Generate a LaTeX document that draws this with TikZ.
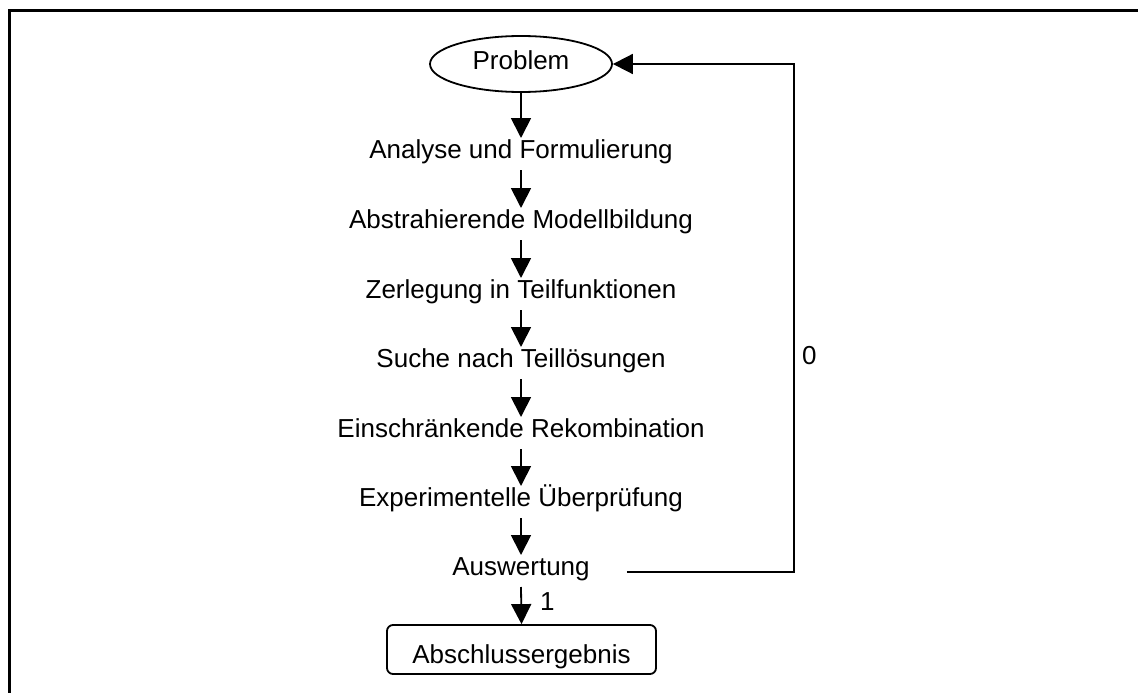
\documentclass[tikz,border=0pt]{standalone}
\usepackage{fontspec}
\setmainfont{Liberation Sans}
\usetikzlibrary{arrows.meta,shapes.geometric}
\begin{document}
\begin{tikzpicture}[x=1pt,y=-1pt,
  every node/.style={font=\fontsize{26}{30}\selectfont},
  steptext/.style={inner xsep=0pt,inner ysep=0pt,anchor=base},
  arr/.style={line width=1.8pt,-{Triangle[length=20pt,width=20pt]}}]
\useasboundingbox (0,0) rectangle (1138,693);
\fill[white] (0,0) rectangle (1138,693);
% outer frame (open at right and bottom)
\draw[line width=3pt] (9.5,693) -- (9.5,11) -- (1138,11);

% start and end nodes
\node[ellipse,draw,line width=1.8pt,minimum width=182pt,minimum height=56pt,
      inner sep=0pt,text height=18pt,text depth=6pt] (prob) at (521,64) {Problem};
\node[draw,rounded corners=6pt,line width=1.8pt,minimum width=269pt,minimum height=49pt,
      inner sep=0pt,text height=30pt,text depth=3pt] (end) at (521.5,649.5) {Abschlussergebnis};

% process steps
\node[steptext] (s1) at (521,158) {Analyse und Formulierung};
\node[steptext] (s2) at (521,228) {Abstrahierende Modellbildung};
\node[steptext] (s3) at (521,298) {Zerlegung in Teilfunktionen};
\node[steptext] (s4) at (521,367) {Suche nach Teillösungen};
\node[steptext] (s5) at (521,437) {Einschränkende Rekombination};
\node[steptext] (s6) at (521,506) {Experimentelle Überprüfung};
\node[steptext] (s7) at (521,575) {Auswertung};

% forward arrows
\draw[arr] (prob.south) -- ([yshift=20pt]s1.base);
\draw[arr] ([yshift=-12pt]s1.base) -- ([yshift=20pt]s2.base);
\draw[arr] ([yshift=-12pt]s2.base) -- ([yshift=20pt]s3.base);
\draw[arr] ([yshift=-12pt]s3.base) -- ([yshift=20pt]s4.base);
\draw[arr] ([yshift=-12pt]s4.base) -- ([yshift=20pt]s5.base);
\draw[arr] ([yshift=-12pt]s5.base) -- ([yshift=20pt]s6.base);
\draw[arr] ([yshift=-12pt]s6.base) -- ([yshift=20pt]s7.base);
\draw[arr] ([yshift=-12pt]s7.base) -- (end.north);
\node[anchor=base west,inner sep=0pt] (one) at ([xshift=19pt,yshift=-35pt]s7.base) {1};

% feedback loop back to the problem
\coordinate (loopstart) at ([xshift=37pt,yshift=3pt]s7.base east);
\coordinate (loopcorner) at (794,572);
\draw[arr] (loopstart) -- (loopcorner) |- (prob.east);
\node[anchor=base west,inner sep=0pt] (zero) at (802,364) {0};
\end{tikzpicture}
\end{document}
